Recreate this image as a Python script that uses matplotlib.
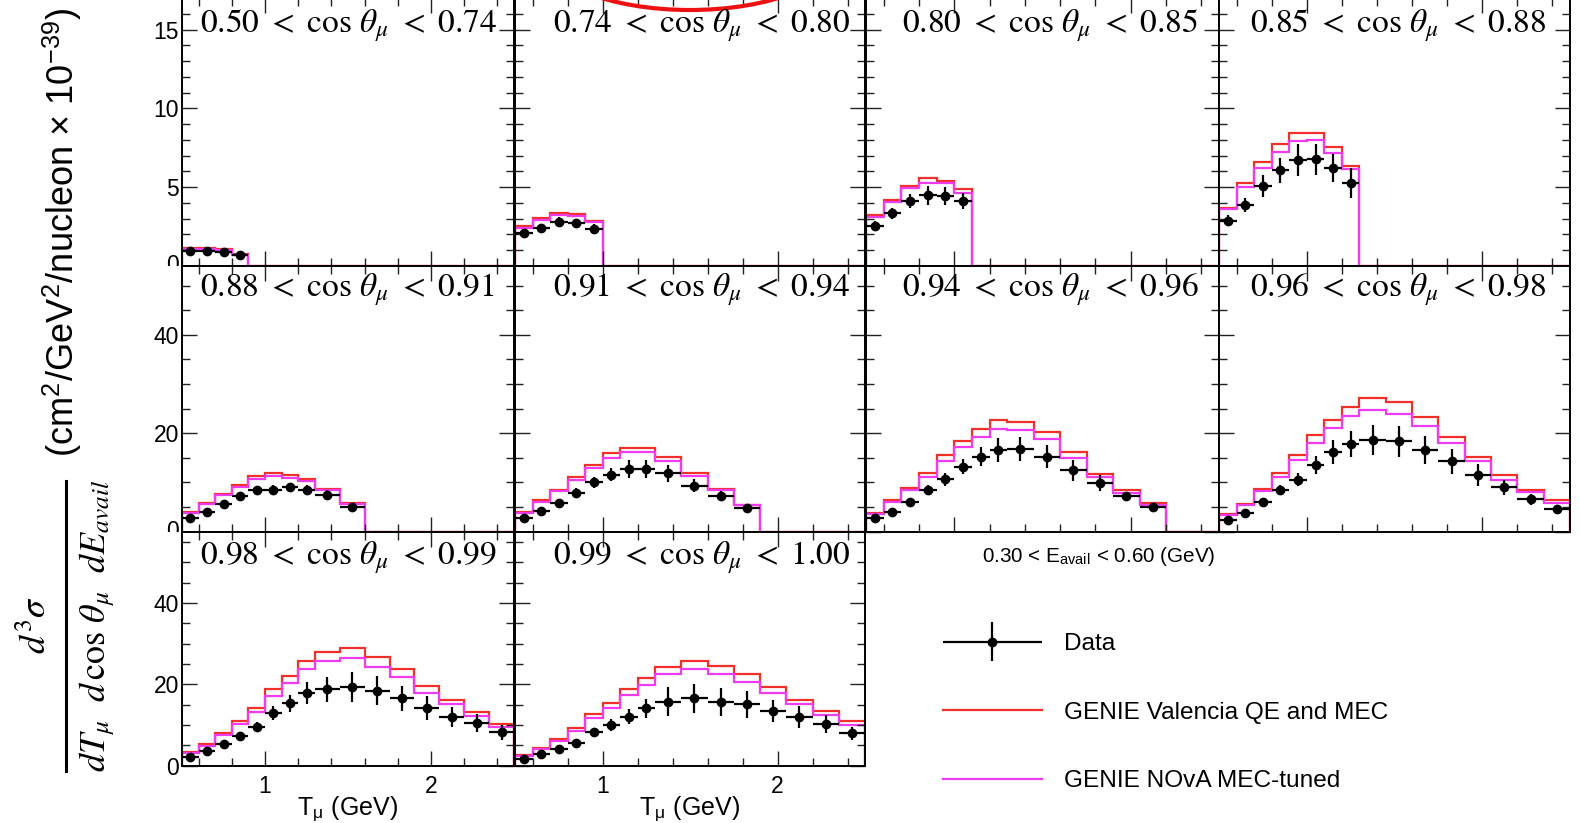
import numpy as np
import matplotlib
matplotlib.use('Agg')
import matplotlib.pyplot as plt
from matplotlib.lines import Line2D
from matplotlib.patches import Ellipse
from matplotlib.ticker import MultipleLocator, FuncFormatter
from matplotlib.transforms import Bbox
from matplotlib.container import ErrorbarContainer
from matplotlib.legend_handler import HandlerErrorbar

plt.rcParams['mathtext.fontset'] = 'stix'
plt.rcParams['font.family'] = ['Liberation Sans', 'DejaVu Sans']

W, H = 1580, 823

# muon kinetic energy binning (GeV) and cos(theta_mu) slices
t_edges = [0.5, 0.6, 0.7, 0.8, 0.9, 1.0, 1.1, 1.2, 1.3, 1.45, 1.6, 1.75, 1.9, 2.05, 2.2, 2.35, 2.5]
cos_edges = ['0.50', '0.74', '0.80', '0.85', '0.88', '0.91', '0.94', '0.96', '0.98', '0.99', '1.00']

# GENIE Valencia QE and MEC, per cos slice (filled bins only)
valencia = [
    [1.15, 1.15, 1.05, 0.75],
    [2.53, 3.02, 3.34, 3.27, 2.85],
    [3.23, 4.18, 5.09, 5.60, 5.39, 4.88],
    [3.65, 5.24, 6.57, 7.71, 8.45, 8.45, 7.56, 6.36],
    [3.93, 5.76, 7.66, 9.36, 11.19, 11.86, 11.53, 10.70, 8.60, 5.76],
    [3.93, 6.31, 8.47, 11.05, 13.56, 15.93, 16.95, 16.95, 15.25, 12.00, 8.61, 5.42],
    [3.73, 6.31, 8.81, 12.00, 15.46, 18.50, 20.80, 22.58, 22.37, 20.20, 16.07, 11.73, 8.34, 5.76],
    [3.60, 5.63, 8.61, 12.00, 15.59, 19.53, 22.71, 25.42, 27.12, 26.24, 23.19, 19.12, 15.25, 11.39, 8.47, 6.31],
    [3.28, 5.33, 7.95, 11.07, 14.26, 18.77, 22.13, 25.74, 27.87, 28.85, 26.80, 23.69, 19.59, 16.15, 13.28, 10.25],
    [2.62, 4.43, 6.48, 9.18, 12.62, 15.49, 18.77, 21.64, 24.34, 25.74, 24.59, 22.54, 19.43, 16.15, 13.44, 11.07],
]

# GENIE NOvA MEC-tuned
nova = [
    [1.10, 1.10, 1.00, 0.72],
    [2.43, 2.92, 3.23, 3.17, 2.80],
    [3.13, 4.03, 4.92, 5.28, 5.24, 4.65],
    [3.60, 4.99, 6.19, 7.24, 7.92, 7.98, 7.18, 6.13],
    [3.73, 5.56, 7.39, 8.95, 10.64, 11.19, 10.90, 10.17, 8.47, 5.56],
    [3.73, 6.10, 8.14, 10.50, 12.88, 14.92, 16.07, 16.07, 14.37, 11.32, 8.34, 5.29],
    [3.53, 5.90, 8.47, 11.05, 14.37, 17.15, 19.32, 20.80, 20.68, 18.85, 14.92, 11.05, 7.93, 5.42],
    [3.39, 5.42, 8.14, 11.05, 14.58, 17.97, 21.02, 23.39, 24.75, 23.93, 21.49, 17.97, 14.24, 10.51, 8.00, 5.76],
    [3.03, 4.92, 7.54, 10.25, 13.28, 17.21, 20.41, 23.69, 25.82, 26.56, 24.34, 21.72, 17.95, 15.08, 12.30, 9.59],
    [2.38, 4.02, 6.07, 8.52, 11.64, 14.26, 17.38, 19.84, 22.54, 23.69, 22.46, 20.66, 17.79, 15.08, 12.46, 10.00],
]

# measured cross section
data = [
    [0.95, 0.95, 0.90, 0.68],
    [2.07, 2.43, 2.81, 2.70, 2.37],
    [2.53, 3.34, 4.12, 4.50, 4.44, 4.14],
    [2.87, 3.87, 5.09, 6.08, 6.72, 6.76, 6.23, 5.24],
    [2.71, 3.93, 5.56, 7.12, 8.34, 8.47, 8.95, 8.47, 7.46, 5.08],
    [2.71, 4.27, 5.76, 7.80, 9.97, 11.53, 12.68, 12.68, 11.86, 9.29, 7.25, 4.75],
    [2.71, 3.93, 6.10, 8.47, 10.64, 13.22, 15.25, 16.61, 16.75, 15.25, 12.41, 9.83, 7.12, 5.08],
    [2.37, 3.86, 5.90, 8.47, 10.51, 13.56, 16.14, 17.83, 18.64, 18.31, 16.61, 14.24, 11.53, 8.95, 6.58, 4.54],
    [2.21, 3.61, 5.33, 7.30, 9.59, 13.03, 15.33, 17.79, 18.77, 19.26, 18.44, 16.56, 14.26, 12.05, 10.57, 8.20],
    [1.56, 2.79, 4.02, 5.66, 8.20, 10.00, 12.05, 14.10, 15.74, 16.56, 15.74, 15.08, 13.52, 11.89, 10.25, 7.95],
]

data_err = [
    [0.10, 0.10, 0.10, 0.10],
    [0.20, 0.25, 0.30, 0.30, 0.30],
    [0.30, 0.35, 0.45, 0.60, 0.60, 0.50],
    [0.35, 0.45, 0.70, 0.80, 1.00, 1.00, 0.90, 0.95],
    [0.40, 0.50, 0.60, 0.70, 0.80, 0.90, 1.00, 0.90, 0.90, 0.70],
    [0.50, 0.60, 0.80, 1.00, 1.10, 1.30, 1.80, 1.80, 1.70, 1.30, 0.90, 0.60],
    [0.50, 0.60, 0.80, 1.00, 1.30, 1.60, 2.00, 2.50, 2.50, 2.30, 2.20, 1.60, 1.00, 0.70],
    [0.50, 0.60, 0.80, 1.00, 1.30, 1.80, 2.40, 2.60, 3.00, 3.10, 2.80, 2.60, 2.30, 1.50, 1.10, 0.80],
    [0.40, 0.50, 0.70, 0.90, 1.20, 1.70, 2.00, 2.70, 3.00, 3.70, 3.50, 3.10, 3.00, 2.50, 2.20, 1.80],
    [0.30, 0.40, 0.60, 0.80, 1.00, 1.40, 1.80, 2.30, 3.50, 3.60, 3.40, 3.30, 2.70, 2.70, 2.30, 1.60],
]

RED = '#f2302a'
MAGENTA = '#f03cf0'

# pad layout in pixels (x left/right, y top/bottom)
col_x = [(182, 514), (515, 865), (866, 1219), (1219, 1570)]
row_y = [(-2, 266), (266, 531.5), (531.5, 765.7)]
row_ymax = [17.0, 54.0, 57.6]
row_major = [5, 20, 20]
row_minor = [1, 5, 5]
title_x = [200, 553, 902, 1250]
title_y = [33, 296, 564]


def fx(x):
    return x / W


def fy(y):
    return 1 - y / H


fig = plt.figure(figsize=(W / 100, H / 100), dpi=100)

edges = np.array(t_edges)
centers = 0.5 * (edges[1:] + edges[:-1])
halfw = 0.5 * (edges[1:] - edges[:-1])
nbins = len(centers)

data_handle = None
for i in range(10):
    row, col = divmod(i, 4)
    x0, x1 = col_x[col]
    y0, y1 = row_y[row]
    ax = fig.add_axes([fx(x0), fy(y1), (x1 - x0) / W, (y1 - y0) / H])
    n = len(data[i])
    red_full = list(valencia[i]) + [0.0] * (nbins - n)
    mag_full = list(nova[i]) + [0.0] * (nbins - n)
    ax.stairs(red_full, edges, baseline=0, color=RED, lw=1.6)
    ax.stairs(mag_full, edges, baseline=0, color=MAGENTA, lw=1.6)
    eb = ax.errorbar(centers[:n], data[i], xerr=halfw[:n], yerr=data_err[i],
                     fmt='o', color='black', ms=6, elinewidth=1.6, capsize=0, zorder=4)
    if data_handle is None:
        data_handle = eb

    ax.set_xlim(0.5, 2.5)
    ax.set_ylim(0, row_ymax[row])
    ax.xaxis.set_major_locator(MultipleLocator(1))
    ax.xaxis.set_minor_locator(MultipleLocator(0.2))
    ax.yaxis.set_major_locator(MultipleLocator(row_major[row]))
    ax.yaxis.set_minor_locator(MultipleLocator(row_minor[row]))
    ax.tick_params(which='both', direction='in', top=True, right=True,
                   labelsize=16.5, width=1.0, color='#222222')
    ax.tick_params(which='major', length=10.5)
    ax.tick_params(which='minor', length=5.5)
    ax.tick_params(axis='y', pad=2)
    ax.tick_params(axis='x', pad=7)
    for s in ax.spines.values():
        s.set_linewidth(1.4)
    ax.tick_params(labelleft=(col == 0), labelbottom=(row == 2))
    if row < 2:
        ax.yaxis.set_major_formatter(FuncFormatter(lambda v, p: '' if v == 0 else f'{v:g}'))
    if row == 2:
        ax.set_xlabel('T$_{\\mathregular{μ}}$ (GeV)', fontsize=18, labelpad=-3)

    lo, hi = cos_edges[i], cos_edges[i + 1]
    fig.text(fx(title_x[col]), fy(title_y[row]), rf'${lo}\ <\ \cos\,\theta_\mu\ <\ {hi}$',
             fontsize=24, ha='left', va='baseline')

# "0" labels partly hidden under the pad below
for row in (0, 1):
    yb = row_y[row][1]
    t = fig.text(fx(179), fy(yb), '0', ha='right', va='center', fontsize=16.5)
    t.set_clip_box(Bbox.from_extents(0, H - yb, 183, H))

# y axis title
fig.text(fx(62), fy(232), '(cm$^{\\mathregular{2}}$/GeV$^{\\mathregular{2}}$/nucleon × 10$^{\\mathregular{-39}}$)',
         rotation=90, ha='center', va='center', fontsize=26)
fig.text(fx(37), fy(625), r'$d^3\sigma$', rotation=90, ha='center', va='center', fontsize=26)
fig.add_artist(Line2D([fx(65.5), fx(65.5)], [fy(481), fy(771)], color='black', lw=2.2,
                      transform=fig.transFigure))
fig.text(fx(97), fy(626), r'$dT_\mu\ \ d\,\cos\,\theta_\mu\ \ dE_{avail}$', rotation=90,
         ha='center', va='center', fontsize=26)

# E_avail slice note and legend
fig.text(fx(982), fy(562), '0.30 < E$_{\\mathregular{avail}}$ < 0.60 (GeV)',
         fontsize=14.9, ha='left', va='baseline')

red_h = Line2D([], [], color=RED, lw=1.6)
mag_h = Line2D([], [], color=MAGENTA, lw=1.6)
fig.legend([data_handle, red_h, mag_h],
           ['Data', 'GENIE Valencia QE and MEC', 'GENIE NOvA MEC-tuned'],
           loc='upper left', bbox_to_anchor=(fx(943), fy(633)),
           frameon=False, borderpad=0, borderaxespad=0,
           handlelength=4.05, handletextpad=0.9, labelspacing=1.9,
           prop={'size': 17.6},
           handler_map={ErrorbarContainer: HandlerErrorbar(xerr_size=2.03, yerr_size=0.8)})

# hand-drawn red mark at the top
fig.add_artist(Ellipse((fx(690), fy(-50)), 295 / W, 120 / H, transform=fig.transFigure,
                       fill=False, ec='#ee1111', lw=3))

fig.savefig('out.png', dpi=100)
